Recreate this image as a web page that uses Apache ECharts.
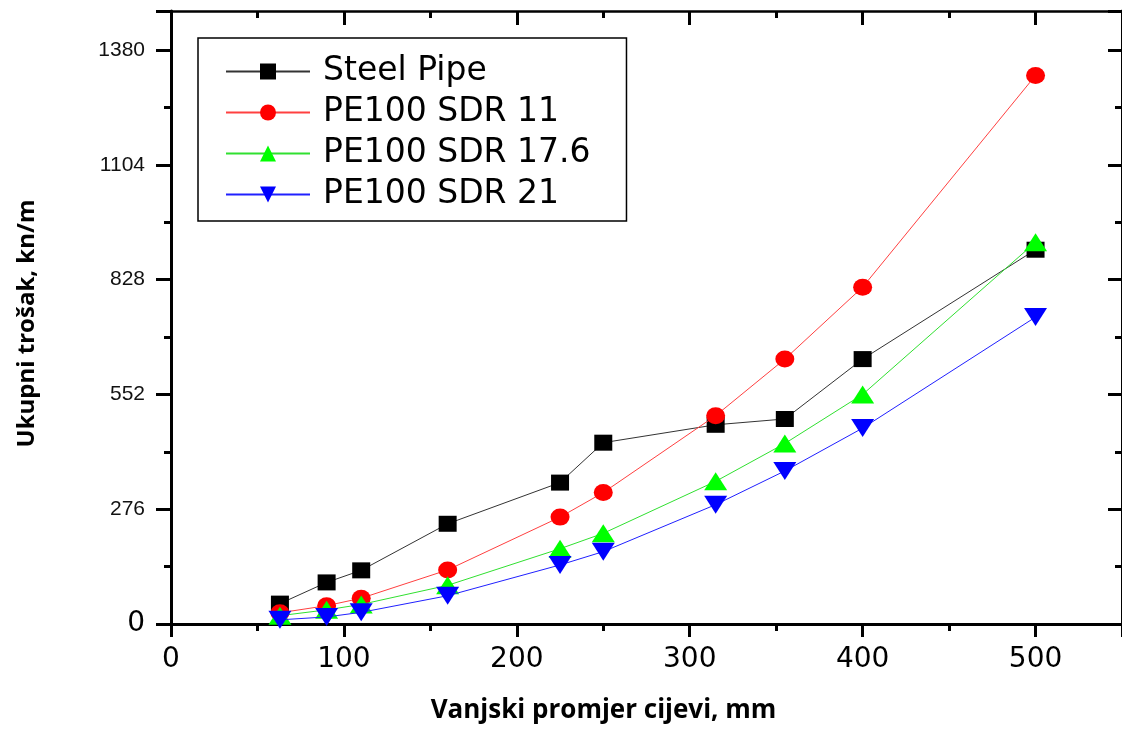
<!DOCTYPE html>
<html>
<head>
<meta charset="utf-8">
<script src="https://cdn.jsdelivr.net/npm/echarts@6/dist/echarts.min.js"></script>
<style>
html,body{margin:0;padding:0;background:#fff;}
#chart{width:1122px;height:729px;}
</style>
</head>
<body>
<div id="chart"></div>
<script>
// Data
const diameters = [63, 90, 110, 160, 225, 250, 315, 355, 400, 500];
const steelPipe = [49, 100, 129, 241, 340, 436, 479, 493, 637, 900];
const sdr11     = [27, 44, 62, 130, 257, 316, 501, 637, 810, 1319];
const sdr176    = [20, 34, 47, 93, 181, 218, 343, 434, 552, 918];
const sdr21     = [10, 17, 28, 68, 142, 174, 287, 368, 471, 738];
const seriesNames = ['Steel Pipe', 'PE100 SDR 11', 'PE100 SDR 17.6', 'PE100 SDR 21'];
const xTitle = 'Vanjski promjer cijevi, mm';
const yTitle = 'Ukupni trošak, kn/m';

function pairs(vals){ return diameters.map((d,i)=>[d, vals[i]]); }

const chart = echarts.init(document.getElementById('chart'), null, {renderer:'canvas'});

const axisBase = {
  type:'value',
  axisLine:{show:true, onZero:false, lineStyle:{color:'#000', width:3}},
  splitLine:{show:false}
};

const option = {
  backgroundColor:'#fff',
  animation:false,
  grid:{left:171, right:-1, top:11, bottom:104.5, containLabel:false},
  legend:{
    orient:'vertical', left:198, top:38,
    itemWidth:84, itemHeight:20, itemGap:8,
    padding:[17,36,10,27],
    borderColor:'#000', borderWidth:1.5,
    backgroundColor:'#fff',
    textStyle:{fontFamily:'DejaVu Sans', fontSize:33, color:'#000', lineHeight:32, padding:[0,0,0,8]},
    data:seriesNames
  },
  xAxis:[
    Object.assign({}, axisBase, {
      position:'bottom', min:0, max:550, interval:100,
      name:xTitle, nameLocation:'middle', nameGap:74,
      nameTextStyle:{fontFamily:'Open Sans', fontWeight:'bold', fontSize:26, color:'#000', padding:[0,86,0,0]},
      axisTick:{show:true, inside:false, length:13, lineStyle:{color:'#000', width:3}},
      minorTick:{show:true, splitNumber:2, length:7, lineStyle:{color:'#000', width:3}},
      axisLabel:{show:true, margin:22, fontFamily:'DejaVu Sans', fontSize:28, color:'#000', showMaxLabel:false}
    }),
    Object.assign({}, axisBase, {
      position:'top', min:0, max:550, interval:100,
      axisLine:{show:true, onZero:false, lineStyle:{color:'#000', width:2.5}},
      axisTick:{show:true, inside:true, length:14, lineStyle:{color:'#000', width:3}},
      minorTick:{show:true, splitNumber:2, length:7, lineStyle:{color:'#000', width:3}},
      axisLabel:{show:false}
    })
  ],
  yAxis:[
    Object.assign({}, axisBase, {
      position:'left', min:0, max:1474, interval:276,
      name:yTitle, nameLocation:'middle', nameGap:132, nameRotate:90,
      nameTextStyle:{fontFamily:'Open Sans', fontWeight:'bold', fontSize:24, color:'#000', padding:[0,12,0,0]},
      axisTick:{show:true, inside:false, length:15, lineStyle:{color:'#000', width:3}},
      minorTick:{show:true, splitNumber:2, length:7, lineStyle:{color:'#000', width:3}},
      axisLabel:{show:true, margin:26, fontFamily:'Liberation Sans', fontSize:21, color:'#111', showMaxLabel:false,
        formatter:function(v){ return v===0 ? '{big|0}' : String(v); },
        rich:{big:{fontFamily:'DejaVu Sans', fontSize:28, color:'#000'}}
      }
    }),
    Object.assign({}, axisBase, {
      position:'right', min:0, max:1474, interval:276,
      axisTick:{show:true, inside:true, length:14, lineStyle:{color:'#000', width:3}},
      minorTick:{show:true, splitNumber:2, length:7, lineStyle:{color:'#000', width:3}},
      axisLabel:{show:false}
    })
  ],
  series:[
    {name:seriesNames[0], type:'line', data:pairs(steelPipe), symbol:'rect', symbolSize:[18,16],
      itemStyle:{color:'#000'}, lineStyle:{color:'#333', width:1}, z:2},
    {name:seriesNames[1], type:'line', data:pairs(sdr11), symbol:'circle', symbolSize:[19,17],
      itemStyle:{color:'#ff0000'}, lineStyle:{color:'#ff4040', width:1}, z:3},
    {name:seriesNames[2], type:'line', data:pairs(sdr176), symbol:'triangle', symbolSize:[23,18],
      itemStyle:{color:'#00ff00'}, lineStyle:{color:'#30e030', width:1}, z:4},
    {name:seriesNames[3], type:'line', data:pairs(sdr21), symbol:'triangle', symbolRotate:180, symbolSize:[23,18],
      itemStyle:{color:'#0000ff'}, lineStyle:{color:'#2020ff', width:1}, z:5}
  ]
};
chart.setOption(option);
</script>
</body>
</html>
